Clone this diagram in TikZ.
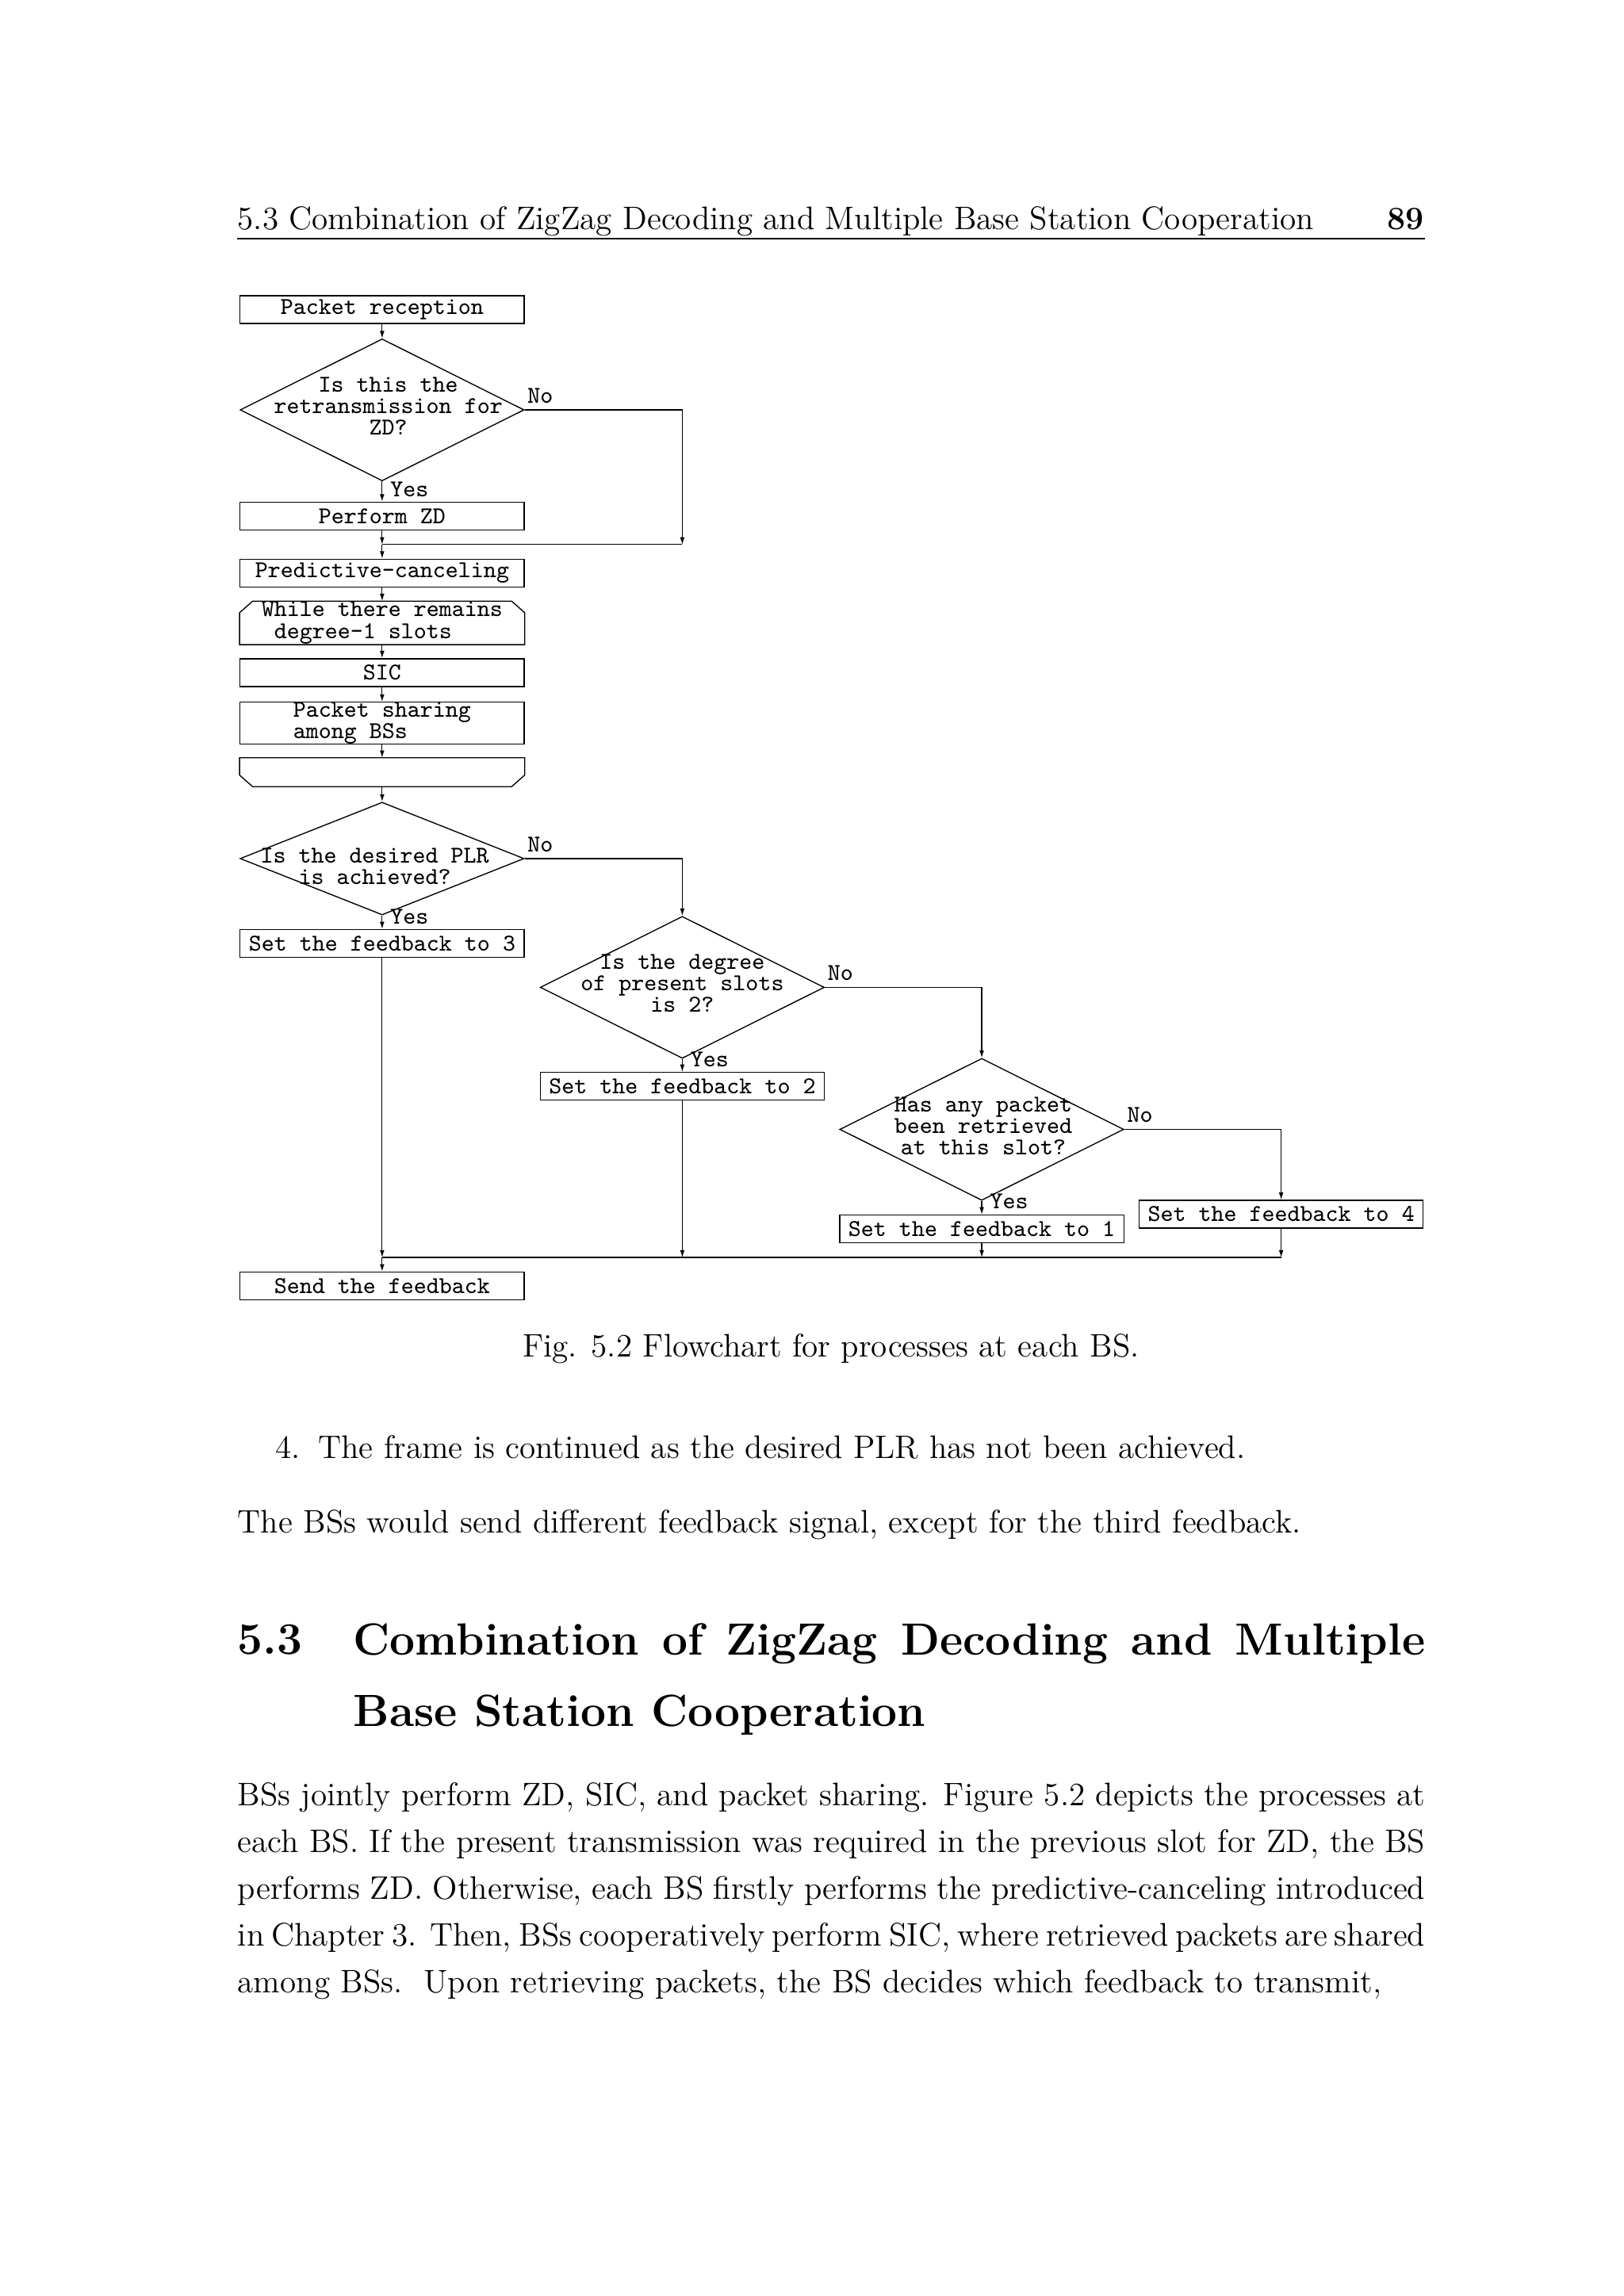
\documentclass[tikz,border=0pt]{standalone}
\usepackage{fontspec}
\usetikzlibrary{shapes.geometric, arrows.meta, positioning}

\tikzset{
  flow/.style={font=\ttfamily\fontsize{8.9}{7.9}\selectfont},
  box/.style={flow, draw, rectangle, line width=0.4pt, minimum width=3.674cm, minimum height=0.36cm, inner sep=0pt, align=center},
  loopbox/.style={box, draw=none, minimum height=0.549cm},
  decision/.style={draw, diamond, line width=0.4pt, minimum width=3.674cm, minimum height=1.837cm, inner sep=0pt},
  qtext/.style={flow, align=center, inner sep=0pt},
  yesno/.style={flow, inner sep=0pt, anchor=base west},
  arr/.style={line width=0.35pt, -{Latex[length=0.95mm,width=0.6mm]}},
  conn/.style={line width=0.35pt},
  body/.style={font=\fontsize{12}{17.24}\selectfont, inner sep=0pt},
}

\begin{document}
\begin{tikzpicture}
\path[use as bounding box, fill=white] (0,0) rectangle (21,-29.7);

% running head
\node[body, anchor=base west] (head) at (3.068,-2.973) {5.3 Combination of ZigZag Decoding and Multiple Base Station Cooperation};
\node[body, anchor=base east, font=\fontsize{12}{14}\selectfont\bfseries] (pageno) at (18.425,-2.973) {89};
\draw[line width=0.4pt] (3.068,-3.087) -- (18.425,-3.087);

% flowchart
\node[box] (rec) at (4.942,-4.005) {Packet reception};
\node[decision] (q1) at (4.942,-5.302) {};
\node[qtext] (q1t) at ([shift={(0.08,0.047)}]q1.center) {Is this the\\retransmission for\\ZD?};
\node[box] (zd) at (4.942,-6.675) {Perform ZD};
\coordinate (j1) at (4.942,-7.044);
\coordinate (j1r) at (8.824,-7.044);
\node[box] (pc) at (4.942,-7.413) {Predictive-canceling};
\node[loopbox, align=left] (loopA) at (4.942,-8.057) {While there remains\\\ degree-1 slots};
\node[box] (sic) at (4.942,-8.701) {SIC};
\node[box, minimum height=0.53cm, align=left] (share) at (4.942,-9.354) {Packet sharing\\among BSs};
\node[loopbox, minimum height=0.36cm] (loopB) at (4.942,-9.989) {};
\node[decision, minimum height=1.458cm] (q2) at (4.942,-11.106) {};
\node[qtext] (q2t) at ([shift={(-0.095,-0.104)}]q2.center) {Is the desired PLR\\is achieved?};
\node[box] (fb3) at (4.942,-12.204) {Set the feedback to 3};

\node[decision] (q3) at (8.824,-12.772) {};
\node[qtext] (q3t) at ([shift={(0,0.057)}]q3.center) {Is the degree\\of present slots\\is 2?};
\node[box] (fb2) at (8.824,-14.051) {Set the feedback to 2};

\node[decision] (q4) at (12.697,-14.609) {};
\node[qtext] (q4t) at ([shift={(0.02,0.047)}]q4.center) {Has any packet\\been retrieved\\at this slot?};
\node[box] (fb1) at (12.697,-15.897) {Set the feedback to 1};
\node[box] (fb4) at (16.569,-15.707) {Set the feedback to 4};

\coordinate (j2) at (4.942,-16.266);
\coordinate (j2b) at (8.824,-16.266);
\coordinate (j2c) at (12.697,-16.266);
\coordinate (j2d) at (16.569,-16.266);
\node[box] (send) at (4.942,-16.635) {Send the feedback};

% loop outlines
\draw[line width=0.4pt] ([yshift=-0.15cm]loopA.north west) -- ([xshift=0.17cm]loopA.north west)
  -- ([xshift=-0.17cm]loopA.north east) -- ([yshift=-0.15cm]loopA.north east)
  -- (loopA.south east) -- (loopA.south west) -- cycle;
\draw[line width=0.4pt] (loopB.north west) -- (loopB.north east) -- ([yshift=0.15cm]loopB.south east)
  -- ([xshift=-0.17cm]loopB.south east) -- ([xshift=0.17cm]loopB.south west)
  -- ([yshift=0.15cm]loopB.south west) -- cycle;

% yes / no
\node[yesno] (q1no) at ([shift={(0.03,0.09)}]q1.east) {No};
\node[yesno] (q1yes) at ([shift={(0.1,-0.195)}]q1.south) {Yes};
\node[yesno] (q2no) at ([shift={(0.03,0.09)}]q2.east) {No};
\node[yesno] (q2yes) at ([shift={(0.1,-0.108)}]q2.south) {Yes};
\node[yesno] (q3no) at ([shift={(0.03,0.09)}]q3.east) {No};
\node[yesno] (q3yes) at ([shift={(0.1,-0.1)}]q3.south) {Yes};
\node[yesno] (q4no) at ([shift={(0.03,0.09)}]q4.east) {No};
\node[yesno] (q4yes) at ([shift={(0.1,-0.1)}]q4.south) {Yes};

% connectors
\draw[arr] (rec) -- (q1);
\draw[arr] (q1) -- (zd);
\draw[arr] (q1.east) -| (j1r);
\draw[conn] (j1r) -- (j1);
\draw[arr] (zd) -- (j1);
\draw[arr] (j1) -- (pc);
\draw[arr] (pc) -- (loopA);
\draw[arr] (loopA) -- (sic);
\draw[arr] (sic) -- (share);
\draw[arr] (share) -- (loopB);
\draw[arr] (loopB) -- (q2);
\draw[arr] (q2.east) -| (q3.north);
\draw[arr] (q2) -- (fb3);
\draw[arr] (q3.east) -| (q4.north);
\draw[arr] (q3) -- (fb2);
\draw[arr] (q4.east) -| (fb4.north);
\draw[arr] (q4) -- (fb1);
\draw[arr] (fb3) -- (j2);
\draw[arr] (fb2) -- (j2b);
\draw[arr] (fb1) -- (j2c);
\draw[arr] (fb4) -- (j2d);
\draw[conn] (j2d) -- (j2);
\draw[arr] (j2) -- (send);

% caption and text
\node[body, anchor=base] (cap) at (10.747,-17.554) {Fig. 5.2 Flowchart for processes at each BS.};
\node[body, anchor=base west] (itemno) at (3.560,-18.86) {4.};
\node[body, anchor=base west] (itemtxt) at (4.109,-18.86) {The frame is continued as the desired PLR has not been achieved.};
\node[body, anchor=base west] (after) at (3.068,-19.826) {The BSs would send different feedback signal, except for the third feedback.};

\node[anchor=base west, inner sep=0pt, font=\fontsize{16.6}{26.3}\selectfont\bfseries] (secno) at (3.068,-21.398) {5.3};
\node[anchor=north west, inner sep=0pt, text width=13.861cm, align=justify, font=\fontsize{16.6}{26.3}\selectfont\bfseries] (sectitle) at (4.564,-20.99)
  {Combination of ZigZag Decoding and Multiple\linebreak Base Station Cooperation};

\node[body, anchor=north west, text width=15.357cm, align=justify] (para) at (3.068,-23.054)
  {\parfillskip=0pt\noindent BSs jointly perform ZD, SIC, and packet sharing. Figure 5.2 depicts the processes at\linebreak
   each BS. If the present transmission was required in the previous slot for ZD, the BS\linebreak
   performs ZD. Otherwise, each BS firstly performs the predictive-canceling introduced\linebreak
   in Chapter 3. Then, BSs cooperatively perform SIC, where retrieved packets are shared\linebreak
   among BSs.\ \ Upon retrieving packets, the BS decides which feedback to transmit,};
\end{tikzpicture}
\end{document}
